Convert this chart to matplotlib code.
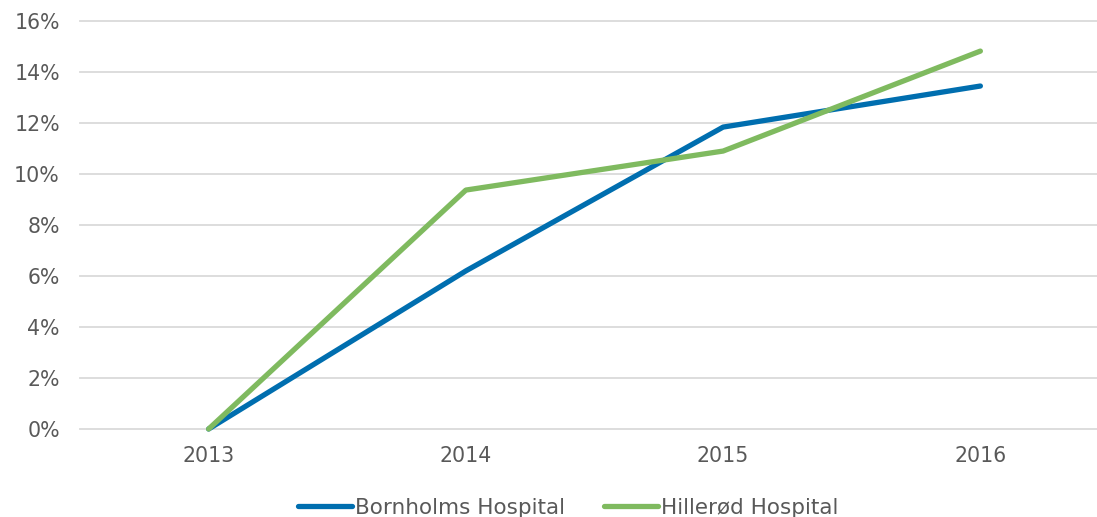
import numpy as np
import matplotlib
matplotlib.use("Agg")
import matplotlib.pyplot as plt
from matplotlib.ticker import FuncFormatter

years = ["2013", "2014", "2015", "2016"]
bornholm = [0.0, 6.2, 11.84, 13.45]
hilleroed = [0.0, 9.37, 10.9, 14.82]

W, H = 1097, 517
fig = plt.figure(figsize=(W / 100, H / 100), dpi=100)
ax = fig.add_axes([80 / W, (H - 429) / H, 1029 / W, 408 / H])

x = np.arange(len(years))
ax.plot(x, bornholm, color="#006EAF", lw=3.8, solid_capstyle="round",
        label="Bornholms Hospital", zorder=3, clip_on=False)
ax.plot(x, hilleroed, color="#7FBA5F", lw=3.8, solid_capstyle="round",
        label="Hillerød Hospital", zorder=3, clip_on=False)

ax.set_xlim(-0.5, len(years) - 0.5)
ax.set_ylim(0, 16)
ax.set_yticks(np.arange(0, 17, 2))
ax.yaxis.set_major_formatter(FuncFormatter(lambda v, p: f"{v:.0f}%"))
ax.set_xticks(x)
ax.set_xticklabels(years)
ax.grid(axis="y", color="#DADADA", lw=1.3)
for gl in ax.get_ygridlines():
    gl.set_clip_on(False)
ax.set_axisbelow(True)
for s in ax.spines.values():
    s.set_visible(False)
ax.tick_params(length=0, labelsize=14.8, colors="#595959")
ax.tick_params(axis="y", pad=14.5)
ax.tick_params(axis="x", pad=12)

fig.legend(loc="center", bbox_to_anchor=(0.518, 0.018), ncol=2, frameon=False,
           fontsize=15.5, labelcolor="#595959", handlelength=2.5,
           handletextpad=0.14, columnspacing=1.85)

fig.savefig("out.png", dpi=100)
